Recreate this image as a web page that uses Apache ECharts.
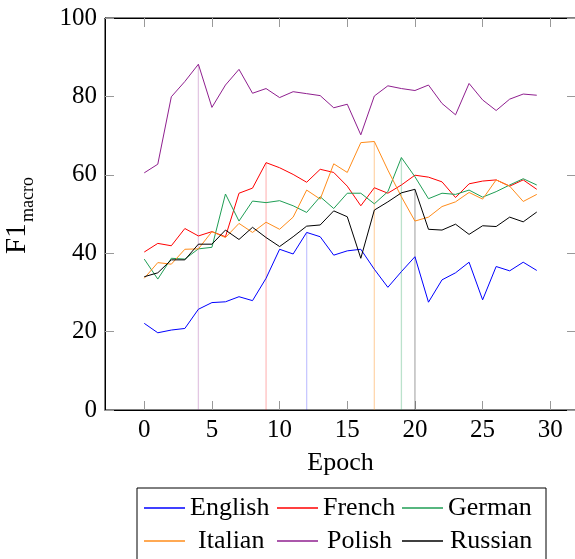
<!DOCTYPE html>
<html>
<head>
<meta charset="utf-8">
<script src="https://cdn.jsdelivr.net/npm/echarts@6/dist/echarts.min.js"></script>
<style>
  html, body { margin: 0; padding: 0; background: #fff; }
  #container { width: 575px; height: 559px; }
</style>
</head>
<body>
<div id="container"></div>
<script>
// epochs on the x axis
var epochs = [0, 1, 2, 3, 4, 5, 6, 7, 8, 9, 10, 11, 12, 13, 14, 15, 16, 17, 18, 19, 20, 21, 22, 23, 24, 25, 26, 27, 28, 29];
var xTicks = [0, 5, 10, 15, 20, 25, 30];

// F1 macro per language
var english = [22.1, 19.7, 20.4, 20.8, 25.7, 27.4, 27.6, 28.9, 27.9, 33.6, 41.0, 39.8, 45.3, 44.2, 39.5, 40.6, 41.0, 35.9, 31.3, 35.3, 39.1, 27.5, 33.2, 35.0, 37.7, 28.1, 36.6, 35.5, 37.7, 35.6];
var french  = [40.3, 42.5, 41.9, 46.3, 44.4, 45.5, 44.2, 55.3, 56.6, 63.1, 61.8, 60.1, 58.1, 61.4, 60.6, 57.1, 52.1, 56.7, 55.3, 57.4, 59.9, 59.4, 58.2, 54.2, 57.7, 58.4, 58.7, 57.1, 58.7, 56.3];
var german  = [38.5, 33.4, 38.7, 38.5, 41.1, 41.5, 55.1, 48.2, 53.3, 52.9, 53.4, 52.1, 50.4, 54.4, 51.4, 55.3, 55.3, 52.6, 55.7, 64.4, 59.5, 53.9, 55.3, 55.0, 56.1, 54.3, 55.7, 57.4, 59.0, 57.4];
var italian = [33.6, 37.6, 37.2, 41.0, 41.1, 45.5, 44.0, 47.6, 45.3, 47.9, 46.1, 49.2, 56.1, 53.8, 62.8, 60.6, 68.2, 68.5, 61.2, 54.4, 48.2, 49.2, 51.9, 53.1, 55.5, 53.8, 58.7, 57.1, 53.2, 55.0];
var polish  = [60.5, 62.7, 79.9, 83.8, 88.2, 77.2, 82.9, 86.9, 80.8, 82.0, 79.7, 81.2, 80.7, 80.2, 77.1, 78.0, 70.2, 80.1, 82.7, 82.0, 81.5, 82.9, 78.2, 75.3, 83.3, 79.1, 76.4, 79.3, 80.6, 80.3];
var russian = [34.0, 35.0, 38.3, 38.3, 42.3, 42.3, 45.9, 43.5, 46.6, 44.0, 41.7, 44.2, 46.9, 47.2, 50.8, 49.3, 38.7, 51.0, 53.1, 55.4, 56.3, 46.1, 45.9, 47.4, 44.8, 47.0, 46.8, 49.2, 48.0, 50.5];

var names  = ['English', 'French', 'German', 'Italian', 'Polish', 'Russian'];
var values = [english, french, german, italian, polish, russian];
var colors = ['#0000ff', '#ff0000', '#1f9e55', '#ff8c1a', '#8f1f8f', '#000000'];
var markColors = ['rgba(0,0,255,0.22)', 'rgba(255,0,0,0.25)', 'rgba(31,158,85,0.3)', 'rgba(255,140,26,0.35)', 'rgba(143,31,143,0.25)', 'rgba(0,0,0,0.3)'];

var FONT = 'Liberation Serif';

var series = [];
// vertical line at the best epoch of every language
for (var i = 0; i < names.length; i++) {
    var v = values[i];
    var best = 0;
    for (var j = 1; j < v.length; j++) {
        if (v[j] > v[best]) best = j;
    }
    series.push({
        type: 'line',
        data: [[epochs[best], 0], [epochs[best], v[best]]],
        symbol: 'none',
        silent: true,
        z: 1,
        lineStyle: { color: markColors[i], width: 1.3 }
    });
}
for (var i = 0; i < names.length; i++) {
    var pts = [];
    for (var j = 0; j < epochs.length; j++) pts.push([epochs[j], values[i][j]]);
    series.push({
        name: names[i],
        type: 'line',
        data: pts,
        symbol: 'none',
        color: colors[i],
        z: 3,
        lineStyle: { color: colors[i], width: 1 }
    });
}

// one legend per entry so the columns line up
var legendPos = [
    [144, 493, 0], [277, 493, 0], [402, 493, 0],
    [144, 526, 8], [277, 526, 4], [402, 526, 2]
];
var legends = [];
for (var i = 0; i < names.length; i++) {
    legends.push({
        data: [names[i]],
        left: legendPos[i][0],
        top: legendPos[i][1],
        padding: 0,
        icon: 'rect',
        itemWidth: 41,
        itemHeight: 1.3,
        selectedMode: false,
        textStyle: {
            fontFamily: FONT, fontSize: 26, color: '#000', lineHeight: 30,
            padding: [0, 0, 0, legendPos[i][2]]
        }
    });
}

var tickStyle = { show: true, inside: true, length: 9, lineStyle: { color: '#999', width: 1 } };

var myChart = echarts.init(document.getElementById('container'));

var option = {
    animation: false,
    backgroundColor: '#fff',
    grid: {
        left: 105, right: -1, top: 18, bottom: 149,
        outerBoundsMode: 'none', containLabel: false,
        show: true, borderColor: '#000', borderWidth: 1
    },
    legend: legends,
    xAxis: [
        {
            type: 'value', min: -2.9, max: 31.9,
            name: 'Epoch', nameLocation: 'middle', nameGap: 40,
            nameTextStyle: { fontFamily: FONT, fontSize: 26, color: '#000' },
            axisLine: { onZero: false, lineStyle: { color: '#000', width: 1 } },
            axisTick: Object.assign({ customValues: xTicks }, tickStyle),
            axisLabel: { customValues: xTicks, margin: 8, fontFamily: FONT, fontSize: 25, color: '#000' },
            splitLine: { show: false }
        },
        {
            type: 'value', min: -2.9, max: 31.9, position: 'top',
            axisLine: { onZero: false, lineStyle: { color: '#000', width: 1 } },
            axisTick: Object.assign({ customValues: xTicks }, tickStyle),
            axisLabel: { show: false },
            splitLine: { show: false }
        }
    ],
    yAxis: [
        {
            type: 'value', min: 0, max: 100, interval: 20,
            axisLine: { show: true, onZero: false, lineStyle: { color: '#000', width: 1 } },
            axisTick: tickStyle,
            axisLabel: { margin: 8, fontFamily: FONT, fontSize: 25, color: '#000' },
            splitLine: { show: false }
        },
        {
            type: 'value', min: 0, max: 100, interval: 20, position: 'right',
            axisLine: { show: true, onZero: false, lineStyle: { color: '#000', width: 1 } },
            axisTick: tickStyle,
            axisLabel: { show: false },
            splitLine: { show: false }
        }
    ],
    graphic: [
        {
            // y axis title: F1 with subscript "macro", rotated
            type: 'group', x: 32, y: 254, rotation: Math.PI / 2,
            children: [
                {
                    type: 'text', x: 0, y: 0,
                    style: { text: 'F1', font: '29px "Liberation Serif"', fill: '#000', align: 'left', verticalAlign: 'bottom' }
                },
                {
                    type: 'text', x: 32, y: 5,
                    style: { text: 'macro', font: '18px "Liberation Serif"', fill: '#000', align: 'left', verticalAlign: 'bottom' }
                }
            ]
        },
        {
            type: 'rect', left: 136.5, top: 487.5, z: -1,
            shape: { width: 409, height: 90 },
            style: { fill: '#fff', stroke: '#000', lineWidth: 1 }
        }
    ],
    series: series
};

myChart.setOption(option);
</script>
</body>
</html>
